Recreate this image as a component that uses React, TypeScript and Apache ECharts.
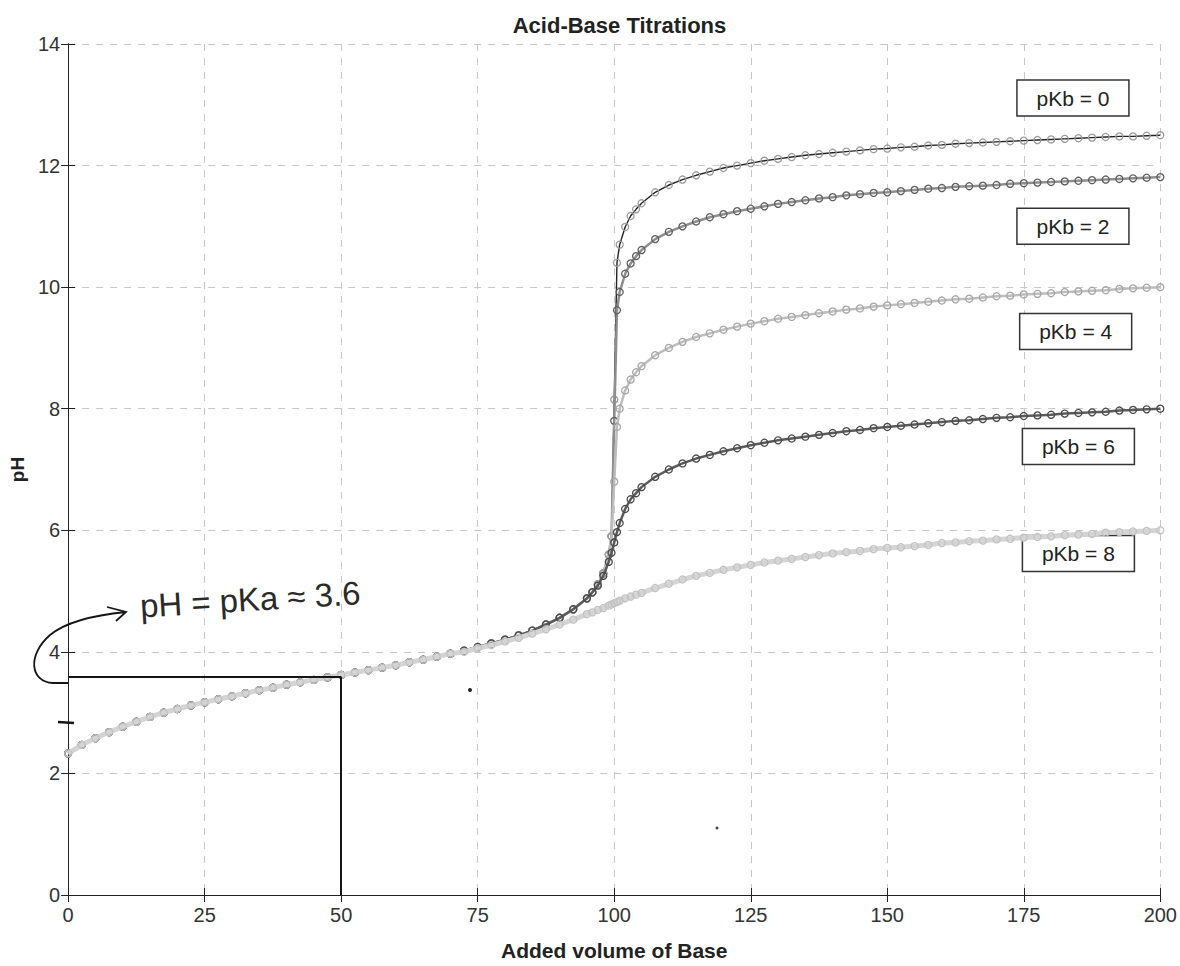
import React, { useEffect, useRef } from "react";
import * as echarts from "echarts";

// ---- Data ----
// Common acid region (all five curves coincide here)
const commonX = [0, 2.5, 5, 7.5, 10, 12.5, 15, 17.5, 20, 22.5, 25, 27.5, 30, 32.5, 35, 37.5, 40, 42.5, 45, 47.5, 50, 52.5, 55, 57.5, 60, 62.5, 65, 67.5, 70];
const commonPH = [2.33, 2.47, 2.58, 2.68, 2.77, 2.85, 2.93, 3.0, 3.06, 3.12, 3.17, 3.22, 3.27, 3.32, 3.37, 3.41, 3.46, 3.5, 3.54, 3.58, 3.62, 3.66, 3.7, 3.74, 3.78, 3.83, 3.87, 3.92, 3.97];

// Later region, shared x positions
const postX = [72.5, 75, 77.5, 80, 82.5, 85, 87.5, 90, 92.5, 95, 96, 97, 98, 99, 99.5, 100, 100.5, 101, 102, 103, 104, 105, 107.5, 110, 112.5, 115, 117.5, 120, 122.5, 125, 127.5, 130, 132.5, 135, 137.5, 140, 142.5, 145, 147.5, 150, 152.5, 155, 157.5, 160, 162.5, 165, 167.5, 170, 172.5, 175, 177.5, 180, 182.5, 185, 187.5, 190, 192.5, 195, 197.5, 200];

const pKb0 = [4.02, 4.08, 4.14, 4.2, 4.27, 4.35, 4.45, 4.56, 4.7, 4.88, 4.98, 5.11, 5.29, 5.6, 5.9, 8.15, 10.4, 10.7, 10.99, 11.17, 11.28, 11.38, 11.56, 11.68, 11.77, 11.84, 11.9, 11.96, 12.0, 12.04, 12.08, 12.11, 12.14, 12.17, 12.19, 12.21, 12.23, 12.25, 12.27, 12.28, 12.3, 12.31, 12.33, 12.34, 12.36, 12.37, 12.38, 12.39, 12.4, 12.41, 12.42, 12.43, 12.44, 12.45, 12.46, 12.47, 12.48, 12.48, 12.49, 12.5];
const pKb2 = [4.02, 4.08, 4.14, 4.2, 4.27, 4.35, 4.45, 4.56, 4.7, 4.88, 4.98, 5.11, 5.29, 5.6, 5.9, 7.8, 9.62, 9.92, 10.22, 10.39, 10.51, 10.61, 10.79, 10.91, 11.0, 11.08, 11.15, 11.2, 11.25, 11.29, 11.33, 11.37, 11.4, 11.43, 11.46, 11.48, 11.51, 11.53, 11.55, 11.56, 11.58, 11.6, 11.62, 11.63, 11.65, 11.66, 11.67, 11.68, 11.7, 11.71, 11.72, 11.73, 11.74, 11.75, 11.76, 11.77, 11.78, 11.79, 11.8, 11.81];
const pKb4 = [4.02, 4.08, 4.14, 4.2, 4.27, 4.35, 4.45, 4.56, 4.7, 4.88, 4.98, 5.11, 5.29, 5.6, 5.9, 6.8, 7.7, 8.0, 8.3, 8.48, 8.6, 8.7, 8.88, 9.0, 9.1, 9.18, 9.24, 9.3, 9.35, 9.4, 9.44, 9.48, 9.51, 9.54, 9.57, 9.6, 9.63, 9.65, 9.68, 9.7, 9.72, 9.74, 9.76, 9.78, 9.8, 9.81, 9.83, 9.85, 9.86, 9.88, 9.89, 9.9, 9.92, 9.93, 9.94, 9.95, 9.97, 9.98, 9.99, 10.0];
const pKb6 = [4.02, 4.08, 4.14, 4.2, 4.27, 4.35, 4.45, 4.56, 4.7, 4.88, 4.98, 5.09, 5.25, 5.48, 5.63, 5.8, 5.97, 6.12, 6.35, 6.51, 6.61, 6.71, 6.88, 7.0, 7.1, 7.18, 7.24, 7.3, 7.35, 7.4, 7.44, 7.48, 7.51, 7.54, 7.57, 7.6, 7.63, 7.65, 7.68, 7.7, 7.72, 7.74, 7.76, 7.78, 7.8, 7.81, 7.83, 7.85, 7.86, 7.88, 7.89, 7.9, 7.92, 7.93, 7.94, 7.95, 7.97, 7.98, 7.99, 8.0];
const pKb8 = [4.0, 4.06, 4.11, 4.17, 4.23, 4.3, 4.37, 4.45, 4.53, 4.62, 4.65, 4.69, 4.72, 4.76, 4.78, 4.8, 4.82, 4.84, 4.88, 4.91, 4.94, 4.97, 5.05, 5.12, 5.19, 5.25, 5.3, 5.35, 5.39, 5.43, 5.47, 5.5, 5.53, 5.56, 5.59, 5.62, 5.64, 5.66, 5.69, 5.71, 5.72, 5.74, 5.76, 5.79, 5.8, 5.82, 5.83, 5.85, 5.86, 5.88, 5.89, 5.9, 5.92, 5.93, 5.94, 5.96, 5.97, 5.98, 5.99, 6.0];

const curveNames = ["pKb = 0", "pKb = 2", "pKb = 4", "pKb = 6", "pKb = 8"];
const curveValues = [pKb0, pKb2, pKb4, pKb6, pKb8];
// label anchor positions in data coordinates (x, pH)
const labelX = [184, 184, 184.5, 185, 185];
const labelPH = [13.11, 11.0, 9.27, 7.38, 5.62];

const xTicks = [0, 25, 50, 75, 100, 125, 150, 175, 200];
const yTicks = [0, 2, 4, 6, 8, 10, 12, 14];
const pKaLine = 3.59;
const halfEqVolume = 50;

// styles (kept apart from data)
const lineColors = ["#222222", "#8e8e8e", "#bdbdbd", "#5a5a5a", "#d4d4d4"];
const markerColors = ["#9c9c9c", "#5e5e5e", "#a6a6a6", "#4a4a4a", "#c2c2c2"];
const lineWidths = [1.4, 2.5, 2.5, 2.5, 5];

const FONT = "Liberation Sans";

const handPathD =
  "M 68 683 L 53 683 C 30 682 27 655 50 635 C 66 622 95 615 126 612 M 107 607 L 126 612 L 116 621";

export default function App() {
  const ref = useRef<HTMLDivElement>(null);

  useEffect(() => {
    if (!ref.current) return;
    try {
      echarts.graphic.registerShape("handloop", echarts.graphic.extendPath(handPathD, {}));
    } catch (e) {}
    const chart = echarts.init(ref.current, undefined, { renderer: "svg" });

    const gridLeft = 68;
    const gridTop = 44;
    const gridRight = 19;
    const gridBottom = 63;

    const series: any[] = curveValues.map((vals, k) => ({
      type: "line",
      name: curveNames[k],
      data: [
        ...commonX.map((x, i) => [x, commonPH[i]]),
        ...postX.map((x, i) => [x, vals[i]]),
      ],
      symbol: "circle",
      symbolSize: 7,
      showSymbol: true,
      showAllSymbol: true,
      lineStyle: { color: lineColors[k], width: lineWidths[k] },
      itemStyle: {
        color: "rgba(255,255,255,0)",
        borderColor: markerColors[k],
        borderWidth: 1.3,
      },
      z: 2 + k,
      silent: true,
    }));

    series[4].markLine = {
      silent: true,
      symbol: ["none", "none"],
      label: { show: false },
      lineStyle: { color: "#151515", width: 2, type: "solid" },
      data: [
        [{ coord: [0, pKaLine] }, { coord: [halfEqVolume, pKaLine] }],
        [{ coord: [halfEqVolume, pKaLine] }, { coord: [halfEqVolume, 0] }],
      ],
      z: 10,
    };

    const axisCommon = {
      axisLine: { show: true, lineStyle: { color: "#222", width: 1 } },
      axisTick: { show: true, inside: true, length: 7, lineStyle: { color: "#222" } },
    };

    chart.setOption({
      animation: false,
      backgroundColor: "#ffffff",
      textStyle: { fontFamily: FONT },
      title: {
        text: "Acid-Base Titrations",
        left: gridLeft + (1180 - gridLeft - gridRight) / 2,
        textAlign: "center",
        top: 9,
        textStyle: { fontSize: 22, fontWeight: "bold", color: "#222", fontFamily: FONT },
      },
      grid: { left: gridLeft, right: gridRight, top: gridTop, bottom: gridBottom, containLabel: false },
      xAxis: [
        {
          type: "value",
          min: xTicks[0],
          max: xTicks[xTicks.length - 1],
          interval: xTicks[1] - xTicks[0],
          ...axisCommon,
          axisLabel: { color: "#333", fontSize: 20, margin: 10, fontFamily: FONT },
          splitLine: { show: true, lineStyle: { color: "#c8c8c8", type: [7, 7], width: 1 } },
          name: "Added volume of Base",
          nameLocation: "middle",
          nameGap: 45,
          nameTextStyle: { fontSize: 21, fontWeight: "bold", color: "#222", fontFamily: FONT },
        },
        {
          type: "value",
          position: "top",
          min: xTicks[0],
          max: xTicks[xTicks.length - 1],
          interval: xTicks[1] - xTicks[0],
          ...axisCommon,
          axisLabel: { show: false },
          splitLine: { show: false },
        },
      ],
      yAxis: [
        {
          type: "value",
          min: yTicks[0],
          max: yTicks[yTicks.length - 1],
          interval: yTicks[1] - yTicks[0],
          ...axisCommon,
          axisLabel: { color: "#333", fontSize: 20, margin: 8, fontFamily: FONT },
          splitLine: { show: true, lineStyle: { color: "#c8c8c8", type: [7, 7], width: 1 } },
          name: "pH",
          nameLocation: "middle",
          nameGap: 22,
          nameTextStyle: { fontSize: 19, fontWeight: "bold", color: "#222", fontFamily: FONT },
        },
        {
          type: "value",
          position: "right",
          min: yTicks[0],
          max: yTicks[yTicks.length - 1],
          interval: yTicks[1] - yTicks[0],
          ...axisCommon,
          axisLabel: { show: false },
          splitLine: { show: false },
        },
      ],
      series,
    });

    // annotations positioned via the chart's own scale
    const labelEls: any[] = curveNames.map((name, k) => {
      const p = chart.convertToPixel({ xAxisIndex: 0, yAxisIndex: 0 }, [labelX[k], labelPH[k]]) as number[];
      return {
        type: "group",
        x: p[0],
        y: p[1],
        children: [
          {
            type: "rect",
            shape: { x: -56, y: -18, width: 112, height: 36 },
            style: { fill: "#fff", stroke: "#333", lineWidth: 1.5 },
          },
          {
            type: "text",
            style: {
              text: name,
              x: 0,
              y: 0,
              align: "center",
              verticalAlign: "middle",
              fill: "#222",
              font: `21px "${FONT}"`,
            },
          },
        ],
      };
    });

    chart.setOption({
      graphic: [
        ...labelEls,
        {
          type: "handloop",
          x: 0,
          y: 0,
          z: 20,
          style: { stroke: "#151515", fill: "none", lineWidth: 1.8 },
        },
        {
          type: "line",
          z: 20,
          shape: { x1: 58, y1: 722, x2: 74, y2: 723 },
          style: { stroke: "#151515", lineWidth: 2.5 },
        },
        {
          type: "text",
          x: 140,
          y: 606,
          rotation: 0.06,
          z: 20,
          style: {
            text: "pH = pKa ≈ 3.6",
            align: "left",
            verticalAlign: "middle",
            fill: "#2a2a2a",
            font: `33px "${FONT}"`,
          },
        },
        { type: "circle", z: 20, shape: { cx: 470, cy: 690, r: 2 }, style: { fill: "#222" } },
        { type: "circle", z: 20, shape: { cx: 717, cy: 828, r: 1.5 }, style: { fill: "#444" } },
      ],
    });

    return () => chart.dispose();
  }, []);

  return (
    <div
      ref={ref}
      style={{ position: "fixed", left: 0, top: 0, width: 1180, height: 966, background: "#fff" }}
    />
  );
}
